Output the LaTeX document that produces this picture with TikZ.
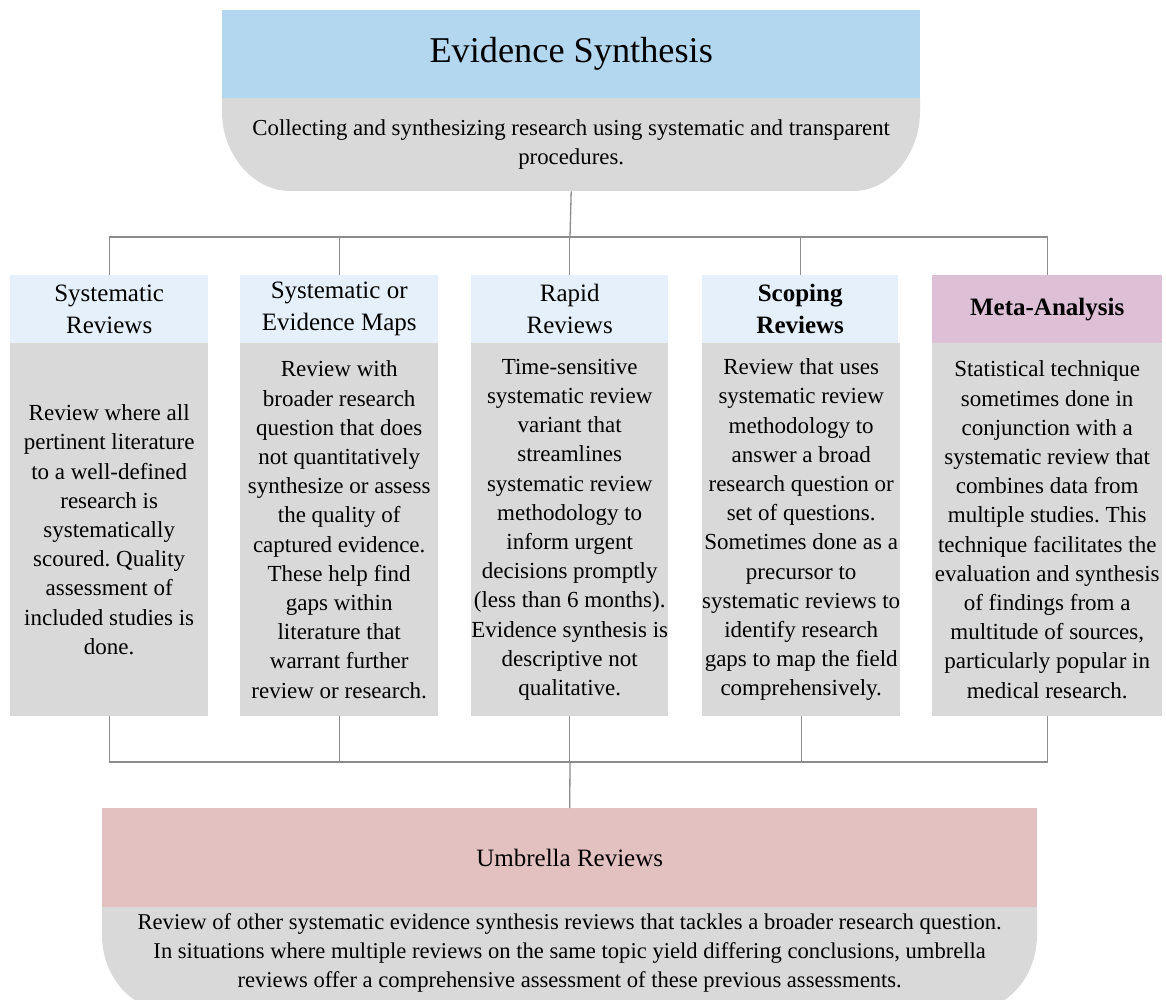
\documentclass[tikz,border=0pt]{standalone}
\usepackage{fontspec}
\setmainfont{Liberation Serif}
\frenchspacing
\definecolor{topblue}{HTML}{B4D7F0}
\definecolor{headblue}{HTML}{E5F0FA}
\definecolor{graybody}{HTML}{D9D9D9}
\definecolor{metapink}{HTML}{DDBFD6}
\definecolor{umbpink}{HTML}{E4C1C1}
\definecolor{linegray}{HTML}{8C8C8C}
\begin{document}
\begin{tikzpicture}[x=1pt,y=-1pt,
  body/.style={fill=graybody, inner sep=0pt, align=center, anchor=north west, minimum height=373pt, font=\fontsize{23}{29.2}\selectfont\frenchspacing},
  head/.style={fill=headblue, inner sep=0pt, align=center, anchor=north west, minimum height=68pt, font=\fontsize{25}{32}\selectfont},
  link/.style={draw=linegray, line width=1.3pt}]
\useasboundingbox[fill=white] (0,0) rectangle (1166,1000);

% top box
\fill[graybody] (222,98) -- (222,112) .. controls (222,154) and (253,191) .. (290,191) -- (854,191) .. controls (889,191) and (920,154) .. (920,112) -- (920,98) -- cycle;
\node[anchor=north west, fill=topblue, minimum width=698pt, minimum height=88pt, inner sep=0pt, font=\fontsize{36.3}{40}\selectfont] (es) at (222,10) {Evidence Synthesis};
\node[anchor=north west, minimum width=698pt, minimum height=93pt, inner sep=0pt, align=center, font=\fontsize{22.8}{29.2}\selectfont] (esd) at (222,98) {Collecting and synthesizing research using systematic and transparent\\procedures.};

% column headers
\node[head, minimum width=198pt] (h1) at (10,275) {Systematic\\Reviews};
\node[head, minimum width=198pt] (h2) at (240,275) {Systematic or\\Evidence Maps};
\node[head, minimum width=197pt] (h3) at (471,275) {Rapid\\Reviews};
\node[head, minimum width=196pt, font=\fontsize{25}{32}\selectfont\bfseries] (h4) at (702,275) {Scoping\\Reviews};
\node[head, fill=metapink, minimum width=230pt, font=\fontsize{25}{32}\selectfont\bfseries] (h5) at (932,275) {Meta-Analysis};

% column bodies
\node[body, minimum width=198pt] (b1) at (10,343) {Review where all\\pertinent literature\\to a well-defined\\research is\\systematically\\scoured. Quality\\assessment of\\included studies is\\done.};
\node[body, minimum width=198pt] (b2) at (240,343) {Review with\\broader research\\question that does\\not quantitatively\\synthesize or assess\\the quality of\\captured evidence.\\These help find\\gaps within\\literature that\\warrant further\\review or research.};
\node[body, minimum width=197pt] (b3) at (471,343) {Time-sensitive\\systematic review\\variant that\\streamlines\\systematic review\\methodology to\\inform urgent\\decisions promptly\\(less than 6 months).\\Evidence synthesis is\\descriptive not\\qualitative.};
\node[body, minimum width=196pt] (b4) at (702,343) {Review that uses\\systematic review\\methodology to\\answer a broad\\research question or\\set of questions.\\Sometimes done as a\\precursor to\\systematic reviews to\\identify research\\gaps to map the field\\comprehensively.};
\node[body, minimum width=230pt] (b5) at (932,343) {Statistical technique\\sometimes done in\\conjunction with a\\systematic review that\\combines data from\\multiple studies. This\\technique facilitates the\\evaluation and synthesis\\of findings from a\\multitude of sources,\\particularly popular in\\medical research.};

% umbrella box
\fill[graybody] (102,907) -- (102,935) .. controls (102,976) and (131,1010) .. (167,1010) -- (972,1010) .. controls (1008,1010) and (1037,976) .. (1037,935) -- (1037,907) -- cycle;
\node[anchor=north west, fill=umbpink, minimum width=935pt, minimum height=99pt, inner sep=0pt, font=\fontsize{25}{30}\selectfont] (um) at (102,808) {Umbrella Reviews};
\node[anchor=north west, minimum width=935pt, minimum height=91pt, inner sep=0pt, align=center, font=\fontsize{22.6}{29.2}\selectfont] (umd) at (102,907) {Review of other systematic evidence synthesis reviews that tackles a broader research question.\\In situations where multiple reviews on the same topic yield differing conclusions, umbrella\\reviews offer a comprehensive assessment of these previous assessments.};

% connectors
\coordinate (bus) at (570,237);
\coordinate (bus2) at (570,762);
\draw[link] (esd.south) -- (bus);
\draw[link] (h1.north) |- (bus);
\draw[link] (h2.north) |- (bus);
\draw[link] (h3.north) |- (bus);
\draw[link] (h4.north) |- (bus);
\draw[link] (h5.north) |- (bus);
\draw[link] (b1.south) |- (bus2);
\draw[link] (b2.south) |- (bus2);
\draw[link] (b3.south) |- (bus2);
\draw[link] (b4.south) |- (bus2);
\draw[link] (b5.south) |- (bus2);
\draw[link] (bus2) -- (um.north);
\end{tikzpicture}
\end{document}
